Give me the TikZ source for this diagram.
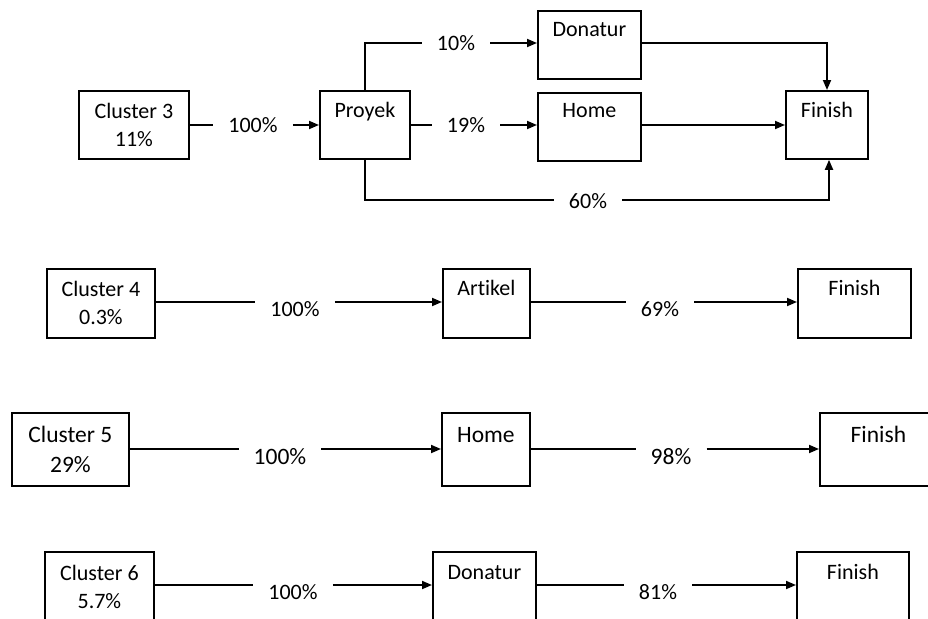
\documentclass[tikz,border=0pt]{standalone}
\usepackage{fontspec}
\setmainfont{Carlito}[Ligatures=NoCommon]
\usetikzlibrary{arrows.meta}
\newcommand{\fsa}{\fontsize{22}{28}\selectfont}
\newcommand{\fsb}{\fontsize{23.5}{30}\selectfont}
\tikzset{
  ln/.style={line width=1.8pt},
  arr/.style={line width=1.8pt, -{Triangle[length=10pt,width=8pt]}},
  bx/.style={draw, line width=1.8pt, inner sep=0pt, anchor=north west},
  cl/.style={bx, align=center},
  lab/.style={inner xsep=15pt, inner ysep=0pt}
}
\begin{document}
\begin{tikzpicture}[x=1pt,y=-1pt]
\useasboundingbox (0,0) rectangle (928,618);
\clip (0,0) rectangle (928,618);
% ---------------- Row 1 ----------------
\node[cl, font=\fsa, minimum width=110pt, minimum height=68pt] (c3) at (78,90) {Cluster 3\\11\%};
\node[bx, font=\fsa, minimum width=90pt, text height=27pt, text depth=41pt] (proyek) at (319,90) {Proyek};
\node[bx, font=\fsa, minimum width=103pt, text height=26pt, text depth=42pt] (don1) at (537,10) {Donatur};
\node[bx, font=\fsa, minimum width=103pt, text height=25pt, text depth=43pt] (home1) at (537,92) {Home};
\node[bx, font=\fsa, minimum width=82pt, text height=27pt, text depth=41pt] (fin1) at (785,90) {Finish};
\node[lab, font=\fsa] (l1a) at (253,125) {100\%};
\node[lab, font=\fsa] (l1b) at (456,43) {10\%};
\node[lab, font=\fsa] (l1c) at (466,125) {19\%};
\node[lab, font=\fsa] (l1d) at (588,201) {60\%};
\coordinate (pu) at (365,43);
\coordinate (pd) at (365,200);
\coordinate (fd) at (829,200);
\coordinate (fu) at (827,43);
\draw[ln] (c3.east |- 0,125) -- (l1a.west |- 0,125);
\draw[arr] (l1a.east |- 0,125) -- (proyek.west |- 0,125);
\draw[ln] (proyek.north -| pu) -- (pu) -- (pu -| l1b.west);
\draw[arr] (l1b.east |- pu) -- (don1.west |- pu);
\draw[ln] (proyek.east |- 0,125) -- (l1c.west |- 0,125);
\draw[arr] (l1c.east |- 0,125) -- (home1.west |- 0,125);
\draw[ln] (proyek.south -| pd) -- (pd) -- (pd -| l1d.west);
\draw[arr] (l1d.east |- pd) -- (fd) -- (fin1.south -| fd);
\draw[arr] (don1.east |- fu) -- (fu) -- (fin1.north -| fu);
\draw[arr] (home1.east |- 0,125) -- (fin1.west |- 0,125);
% ---------------- Row 2 ----------------
\node[cl, font=\fsa, minimum width=108pt, minimum height=69pt] (c4) at (46,268) {Cluster 4\\0.3\%};
\node[bx, font=\fsa, minimum width=87pt, text height=27pt, text depth=42pt] (art) at (442,268) {Artikel};
\node[bx, font=\fsa, minimum width=113pt, text height=27pt, text depth=42pt] (fin2) at (797,268) {Finish};
\node[lab, font=\fsa] (l2a) at (295,309) {100\%};
\node[lab, font=\fsa] (l2b) at (660,309) {69\%};
\draw[ln] (c4.east |- 0,302) -- (l2a.west |- 0,302);
\draw[arr] (l2a.east |- 0,302) -- (art.west |- 0,302);
\draw[ln] (art.east |- 0,302) -- (l2b.west |- 0,302);
\draw[arr] (l2b.east |- 0,302) -- (fin2.west |- 0,302);
% ---------------- Row 3 ----------------
\node[cl, font=\fsb, minimum width=117pt, minimum height=73pt] (c5) at (11,412) {Cluster 5\\29\%};
\node[bx, font=\fsb, minimum width=88pt, text height=30pt, text depth=43pt] (home3) at (441,412) {Home};
\node[bx, font=\fsb, minimum width=117pt, text height=30pt, text depth=43pt] (fin3) at (819,412) {Finish};
\node[lab, font=\fsb] (l3a) at (280,457) {100\%};
\node[lab, font=\fsb] (l3b) at (671,457) {98\%};
\draw[ln] (c5.east |- 0,449) -- (l3a.west |- 0,449);
\draw[arr] (l3a.east |- 0,449) -- (home3.west |- 0,449);
\draw[ln] (home3.east |- 0,449) -- (l3b.west |- 0,449);
\draw[arr] (l3b.east |- 0,449) -- (fin3.west |- 0,449);
% ---------------- Row 4 ----------------
\node[cl, font=\fsa, minimum width=109pt, minimum height=70pt] (c6) at (44,551) {Cluster 6\\5.7\%};
\node[bx, font=\fsa, minimum width=103pt, text height=28pt, text depth=42pt] (don4) at (432,551) {Donatur};
\node[bx, font=\fsa, minimum width=112pt, text height=28pt, text depth=42pt] (fin4) at (796,551) {Finish};
\node[lab, font=\fsa] (l4a) at (293,592) {100\%};
\node[lab, font=\fsa] (l4b) at (658,592) {81\%};
\draw[ln] (c6.east |- 0,585) -- (l4a.west |- 0,585);
\draw[arr] (l4a.east |- 0,585) -- (don4.west |- 0,585);
\draw[ln] (don4.east |- 0,585) -- (l4b.west |- 0,585);
\draw[arr] (l4b.east |- 0,585) -- (fin4.west |- 0,585);
\end{tikzpicture}
\end{document}
